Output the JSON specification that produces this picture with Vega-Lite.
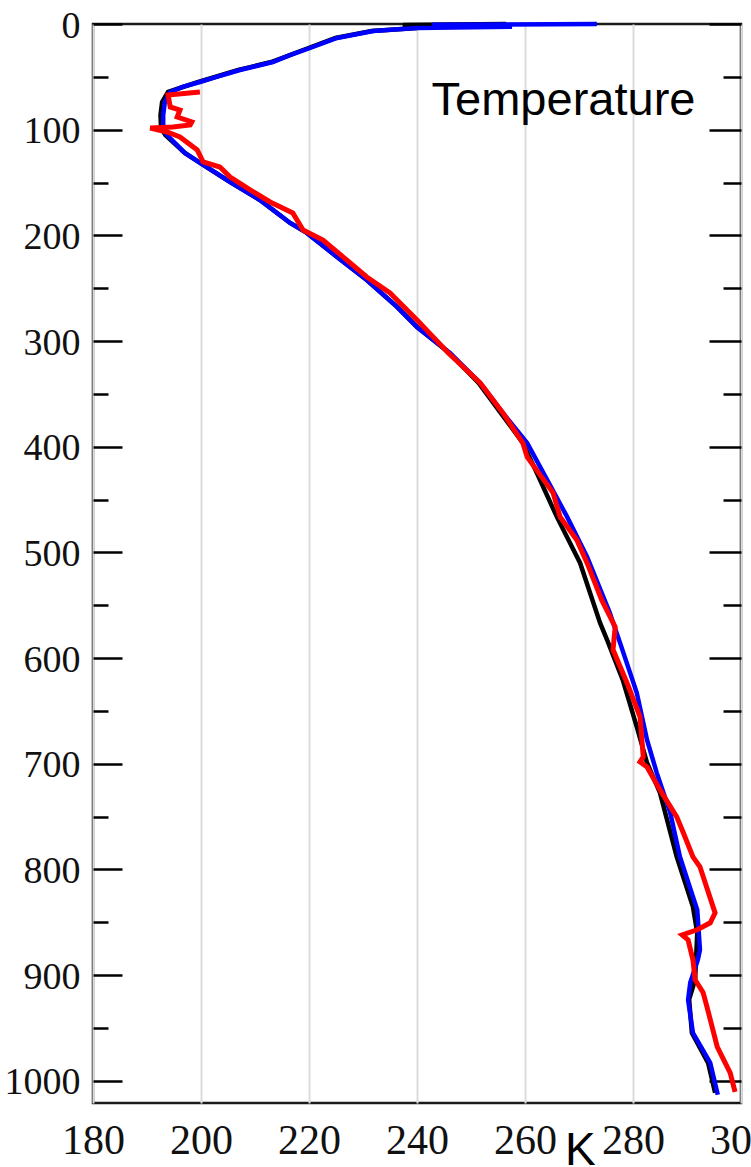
{
  "$schema": "https://vega.github.io/schema/vega-lite/v6.json",
  "width": 648,
  "height": 1079,
  "autosize": {"type": "none"},
  "padding": {"left": 93, "top": 24, "right": 10, "bottom": 64},
  "background": "white",
  "config": {
    "view": {"stroke": "#1a1a1a", "strokeWidth": 2.5},
    "axis": {"title": null, "domain": false, "labelColor": "#111", "labelFlush": false, "labelOverlap": false}
  },
  "datasets": {
    "black": [
      {"T": 256.5, "p": 0}, {"T": 237.4, "p": 1}, {"T": 240.0, "p": 3.8}, {"T": 231.6, "p": 6.6},
      {"T": 224.9, "p": 13.2}, {"T": 219.9, "p": 22.7}, {"T": 213.0, "p": 36}, {"T": 206.9, "p": 43.5},
      {"T": 199.5, "p": 54.9}, {"T": 193.9, "p": 64.3}, {"T": 192.8, "p": 73.8}, {"T": 192.5, "p": 86.1},
      {"T": 192.6, "p": 98.4}, {"T": 193.4, "p": 105}, {"T": 197.0, "p": 122}, {"T": 200.4, "p": 133.4},
      {"T": 205.4, "p": 149.5}, {"T": 210.9, "p": 166.5}, {"T": 216.5, "p": 188.3}, {"T": 219.6, "p": 197.7},
      {"T": 225.2, "p": 220.4}, {"T": 230.7, "p": 242.2}, {"T": 236.3, "p": 267.7}, {"T": 240.0, "p": 286.7},
      {"T": 246.0, "p": 311.3}, {"T": 251.4, "p": 339.6}, {"T": 255.5, "p": 368}, {"T": 259.6, "p": 396.4},
      {"T": 262.2, "p": 424.8}, {"T": 265.9, "p": 466.4}, {"T": 270.2, "p": 510}, {"T": 273.9, "p": 566.7},
      {"T": 275.2, "p": 582.8}, {"T": 278.1, "p": 620.6}, {"T": 280.7, "p": 665.1}, {"T": 282.6, "p": 699.1},
      {"T": 285.0, "p": 727.5}, {"T": 288.1, "p": 788.1}, {"T": 291.1, "p": 835.4}, {"T": 291.9, "p": 860},
      {"T": 291.5, "p": 904.4}, {"T": 290.4, "p": 923}, {"T": 290.9, "p": 954.6}, {"T": 293.9, "p": 983},
      {"T": 295.2, "p": 1011.4}
    ],
    "blue": [
      {"T": 273.3, "p": 0}, {"T": 242.8, "p": 0.8}, {"T": 257.6, "p": 2.5}, {"T": 240.0, "p": 3.8},
      {"T": 231.9, "p": 6.6}, {"T": 225.2, "p": 13.2}, {"T": 220.2, "p": 22.7}, {"T": 216.5, "p": 29.5},
      {"T": 213.3, "p": 36}, {"T": 207.2, "p": 43.5}, {"T": 203.2, "p": 49.5}, {"T": 199.8, "p": 54.9},
      {"T": 196.6, "p": 59.5}, {"T": 194.3, "p": 64.3}, {"T": 193.3, "p": 73.8},
      {"T": 193.0, "p": 86.1}, {"T": 193.0, "p": 98.4}, {"T": 193.7, "p": 105}, {"T": 197.0, "p": 122},
      {"T": 200.4, "p": 133.4}, {"T": 205.4, "p": 149.5}, {"T": 210.9, "p": 166.5}, {"T": 216.5, "p": 188.3},
      {"T": 219.6, "p": 197.7}, {"T": 225.2, "p": 220.4}, {"T": 230.7, "p": 242.2}, {"T": 236.3, "p": 267.7},
      {"T": 240.0, "p": 286.7}, {"T": 246.1, "p": 311.3}, {"T": 251.7, "p": 339.6}, {"T": 255.9, "p": 368},
      {"T": 260.4, "p": 396.4}, {"T": 264.1, "p": 431.4}, {"T": 267.8, "p": 466.4}, {"T": 271.5, "p": 504.3},
      {"T": 275.7, "p": 557.2}, {"T": 277.6, "p": 585.6}, {"T": 280.7, "p": 632.9}, {"T": 282.6, "p": 677.4},
      {"T": 284.4, "p": 708.6}, {"T": 286.9, "p": 746.5}, {"T": 288.7, "p": 788.1}, {"T": 291.9, "p": 838.2},
      {"T": 292.4, "p": 876}, {"T": 292.0, "p": 885.5}, {"T": 290.6, "p": 907.3}, {"T": 290.2, "p": 923.4},
      {"T": 291.1, "p": 954.6}, {"T": 294.3, "p": 983}, {"T": 295.7, "p": 1013.2}
    ],
    "red": [
      {"T": 199.8, "p": 64.3}, {"T": 193.9, "p": 67.2}, {"T": 194.3, "p": 78.5}, {"T": 196.1, "p": 81.4},
      {"T": 195.6, "p": 88}, {"T": 198.3, "p": 92.7}, {"T": 198.0, "p": 95.6}, {"T": 194.8, "p": 97.4},
      {"T": 190.6, "p": 98.4}, {"T": 193.7, "p": 102.2}, {"T": 196.1, "p": 106.9}, {"T": 199.3, "p": 119.2},
      {"T": 200.4, "p": 130.6}, {"T": 203.5, "p": 135.3}, {"T": 205.4, "p": 144.8}, {"T": 209.1, "p": 157},
      {"T": 212.8, "p": 168.4}, {"T": 217.0, "p": 178.8}, {"T": 218.9, "p": 194.9}, {"T": 222.6, "p": 204.4},
      {"T": 226.3, "p": 220.4}, {"T": 230.7, "p": 239.4}, {"T": 235.0, "p": 254.5}, {"T": 240.0, "p": 280},
      {"T": 245.8, "p": 311.3}, {"T": 251.7, "p": 339.6}, {"T": 255.9, "p": 368}, {"T": 259.6, "p": 396.4},
      {"T": 260.4, "p": 409.6}, {"T": 265.2, "p": 443.7}, {"T": 266.5, "p": 466.4}, {"T": 269.6, "p": 488.2},
      {"T": 271.5, "p": 509.9}, {"T": 274.2, "p": 545}, {"T": 276.7, "p": 570.5}, {"T": 276.3, "p": 592.2},
      {"T": 278.9, "p": 623.5}, {"T": 281.3, "p": 655.6}, {"T": 281.9, "p": 693.5}, {"T": 281.3, "p": 698.2},
      {"T": 282.6, "p": 703}, {"T": 285.0, "p": 724.7}, {"T": 288.1, "p": 750.2}, {"T": 289.3, "p": 765},
      {"T": 291.1, "p": 788.1}, {"T": 292.4, "p": 797.5}, {"T": 295.2, "p": 841.1}, {"T": 294.3, "p": 850.5},
      {"T": 291.9, "p": 857.1}, {"T": 289.1, "p": 861.9}, {"T": 290.2, "p": 866.6}, {"T": 291.1, "p": 885.5},
      {"T": 291.5, "p": 904.4}, {"T": 293.0, "p": 916.7}, {"T": 293.7, "p": 930}, {"T": 295.6, "p": 967.8},
      {"T": 298.0, "p": 992.4}, {"T": 298.9, "p": 1010.4}
    ],
    "labels": [
      {"T": 242.7, "p": 86.1, "text": "Temperature"}
    ],
    "unit": [
      {"T": 267.4, "p": 1079.5, "text": "K"}
    ]
  },
  "layer": [
    {
      "data": {"name": "black"},
      "mark": {"type": "line", "stroke": "#000000", "strokeWidth": 4.5},
      "encoding": {
        "x": {
          "field": "T", "type": "quantitative",
          "scale": {"domain": [180, 300], "nice": false, "zero": false},
          "axis": {
            "orient": "bottom", "values": [180, 200, 220, 240, 260, 280, 300],
            "grid": true, "gridColor": "#dcdcdc", "gridWidth": 2,
            "ticks": false, "labelFont": "Times New Roman, Liberation Serif, DejaVu Serif, serif", "labelFontSize": 42, "labelPadding": 17
          }
        },
        "y": {
          "field": "p", "type": "quantitative",
          "scale": {"domain": [0, 1021], "reverse": true, "nice": false, "zero": false},
          "axis": {
            "orient": "left",
            "values": [0, 50, 100, 150, 200, 250, 300, 350, 400, 450, 500, 550, 600, 650, 700, 750, 800, 850, 900, 950, 1000],
            "format": "d",
            "grid": false,
            "ticks": true, "tickColor": "#000", "tickWidth": 2.5,
            "tickSize": {"condition": {"test": "datum.value % 100 === 0", "value": -29}, "value": -15},
            "labelExpr": "datum.value % 100 === 0 ? datum.label : ''",
            "labelFont": "Times New Roman, Liberation Serif, DejaVu Serif, serif", "labelFontSize": 38, "labelPadding": 42, "labelOffset": 2
          }
        },
        "order": {"field": "p", "type": "quantitative"}
      }
    },
    {
      "data": {"name": "blue"},
      "mark": {"type": "line", "stroke": "#0000ff", "strokeWidth": 4.5},
      "encoding": {
        "x": {"field": "T", "type": "quantitative"},
        "y": {
          "field": "p", "type": "quantitative",
          "axis": {
            "orient": "right",
            "values": [0, 50, 100, 150, 200, 250, 300, 350, 400, 450, 500, 550, 600, 650, 700, 750, 800, 850, 900, 950, 1000],
            "grid": false, "labels": false,
            "ticks": true, "tickColor": "#000", "tickWidth": 2.5,
            "tickSize": {"condition": {"test": "datum.value % 100 === 0", "value": -32}, "value": -18}
          }
        },
        "order": {"field": "p", "type": "quantitative"}
      }
    },
    {
      "data": {"name": "red"},
      "mark": {"type": "line", "stroke": "#ff0000", "strokeWidth": 5},
      "encoding": {
        "x": {"field": "T", "type": "quantitative"},
        "y": {"field": "p", "type": "quantitative", "axis": null},
        "order": {"field": "p", "type": "quantitative"}
      }
    },
    {
      "data": {"name": "labels"},
      "mark": {"type": "text", "align": "left", "baseline": "alphabetic", "font": "Liberation Sans", "fontSize": 47, "color": "#000"},
      "encoding": {
        "x": {"field": "T", "type": "quantitative"},
        "y": {"field": "p", "type": "quantitative", "axis": null},
        "text": {"field": "text"}
      }
    },
    {
      "data": {"name": "unit"},
      "mark": {"type": "text", "align": "left", "baseline": "alphabetic", "font": "Liberation Sans", "fontSize": 46, "color": "#000"},
      "encoding": {
        "x": {"field": "T", "type": "quantitative"},
        "y": {"field": "p", "type": "quantitative", "axis": null},
        "text": {"field": "text"}
      }
    }
  ],
  "resolve": {"axis": {"y": "independent"}}
}
